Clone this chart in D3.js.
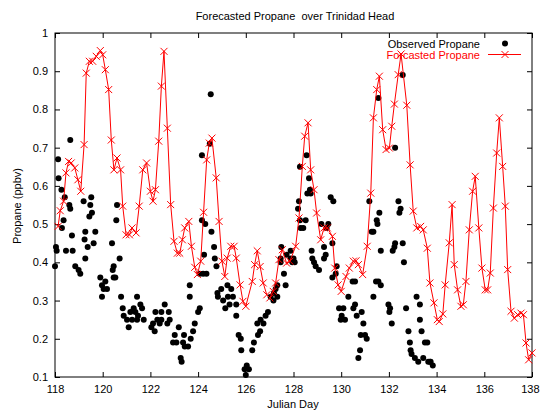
<!DOCTYPE html>
<html>
<head>
<meta charset="utf-8">
<script src="https://cdn.jsdelivr.net/npm/d3@7"></script>
<style>
  html, body { margin: 0; padding: 0; background: #fff; }
  svg text { font-family: "Liberation Sans", Arial, sans-serif; font-size: 11px; }
</style>
</head>
<body>
<svg id="chart" width="540" height="411"></svg>
<script>
// Forecasted propane (3-hourly model output), Julian day and ppbv
const fcDay = [118.13,118.22,118.36,118.46,118.57,118.68,118.83,118.96,119.08,119.22,119.31,119.44,119.58,119.73,119.90,120.00,120.11,120.25,120.36,120.47,120.60,120.75,120.84,120.98,121.12,121.23,121.40,121.53,121.68,121.84,122.00,122.11,122.21,122.35,122.46,122.57,122.71,122.85,122.99,123.13,123.23,123.34,123.44,123.61,123.72,123.86,123.97,124.11,124.23,124.36,124.47,124.58,124.76,124.88,125.00,125.12,125.22,125.37,125.51,125.60,125.76,125.88,126.00,126.27,126.37,126.48,126.60,126.73,126.88,127.01,127.15,127.25,127.39,127.53,127.71,127.85,128.09,128.23,128.37,128.47,128.61,128.72,128.86,128.97,129.14,129.28,129.42,129.63,129.73,129.87,130.00,130.20,130.34,130.51,130.62,130.72,130.90,131.09,131.24,131.35,131.49,131.60,131.74,131.88,132.02,132.12,132.23,132.39,132.51,132.75,132.89,133.02,133.17,133.33,133.44,133.61,133.72,133.89,134.03,134.11,134.26,134.36,134.53,134.65,134.74,134.88,135.02,135.12,135.23,135.37,135.51,135.62,135.77,135.90,136.04,136.14,136.25,136.38,136.52,136.63,136.77,136.88,136.98,137.12,137.26,137.40,137.54,137.64,137.75,137.86,138.00];
const fcVal = [0.494,0.535,0.560,0.634,0.664,0.660,0.647,0.616,0.586,0.708,0.895,0.926,0.926,0.939,0.954,0.943,0.904,0.852,0.720,0.642,0.673,0.642,0.547,0.472,0.472,0.490,0.477,0.547,0.642,0.660,0.586,0.560,0.590,0.717,0.861,0.952,0.751,0.551,0.455,0.424,0.424,0.459,0.490,0.507,0.442,0.387,0.368,0.403,0.531,0.668,0.712,0.725,0.621,0.507,0.403,0.363,0.411,0.442,0.442,0.411,0.341,0.298,0.285,0.350,0.394,0.430,0.389,0.346,0.315,0.307,0.324,0.346,0.407,0.433,0.398,0.403,0.442,0.516,0.651,0.730,0.765,0.642,0.590,0.529,0.459,0.490,0.490,0.468,0.385,0.341,0.324,0.363,0.385,0.403,0.404,0.394,0.368,0.442,0.581,0.778,0.852,0.887,0.747,0.695,0.699,0.756,0.814,0.891,0.945,0.811,0.655,0.534,0.490,0.494,0.485,0.437,0.346,0.294,0.250,0.245,0.265,0.341,0.451,0.551,0.394,0.328,0.285,0.289,0.350,0.485,0.586,0.625,0.490,0.385,0.328,0.328,0.372,0.542,0.686,0.778,0.651,0.547,0.381,0.272,0.254,0.263,0.267,0.263,0.189,0.145,0.163];

// Observed propane at Trinidad Head
const obsDay = [118.00,118.04,118.07,118.13,118.15,118.27,118.29,118.36,118.41,118.46,118.60,118.64,118.64,118.71,118.74,118.85,118.99,119.06,119.20,119.24,119.27,119.27,119.37,119.44,119.48,119.52,119.55,119.62,119.69,119.90,119.97,119.97,120.04,120.11,120.18,120.39,120.42,120.46,120.46,120.53,120.57,120.60,120.71,120.77,120.84,120.88,121.02,121.09,121.16,121.23,121.30,121.37,121.44,121.44,121.48,121.58,121.65,121.72,122.04,122.11,122.18,122.21,122.29,122.39,122.46,122.46,122.60,122.71,122.77,122.81,122.95,123.02,123.09,123.19,123.27,123.31,123.37,123.41,123.44,123.58,123.65,123.65,123.69,123.79,123.86,124.00,124.07,124.07,124.16,124.16,124.21,124.25,124.30,124.35,124.49,124.53,124.56,124.67,124.70,124.77,124.81,124.83,124.97,125.05,125.14,125.23,125.25,125.32,125.39,125.46,125.60,125.60,125.70,125.79,125.81,125.95,126.00,126.04,126.13,126.27,126.34,126.48,126.51,126.60,126.62,126.74,126.83,126.93,127.04,127.16,127.18,127.25,127.32,127.32,127.46,127.46,127.49,127.60,127.67,127.71,127.88,127.88,127.95,128.00,128.05,128.19,128.23,128.27,128.27,128.30,128.41,128.51,128.55,128.58,128.65,128.69,128.72,128.76,128.79,128.86,128.93,129.07,129.17,129.28,129.28,129.35,129.39,129.46,129.56,129.63,129.63,129.67,129.77,129.81,129.91,129.98,130.02,130.09,130.16,130.30,130.48,130.51,130.58,130.58,130.65,130.72,130.79,130.82,130.86,130.93,131.00,131.07,131.18,131.28,131.35,131.35,131.46,131.49,131.52,131.56,131.56,131.60,131.66,131.66,131.98,132.02,132.05,132.12,132.16,132.23,132.26,132.26,132.40,132.44,132.49,132.58,132.58,132.63,132.72,132.82,132.88,132.91,132.95,133.09,133.16,133.23,133.30,133.30,133.37,133.44,133.51,133.61,133.65,133.72,133.75,133.84];
const obsVal = [0.39,0.44,0.43,0.67,0.62,0.59,0.49,0.51,0.57,0.43,0.55,0.72,0.54,0.47,0.43,0.39,0.38,0.37,0.56,0.46,0.48,0.41,0.44,0.52,0.55,0.57,0.53,0.45,0.48,0.36,0.34,0.31,0.33,0.35,0.33,0.45,0.38,0.39,0.36,0.36,0.51,0.55,0.41,0.31,0.28,0.26,0.25,0.23,0.27,0.25,0.28,0.27,0.31,0.25,0.26,0.29,0.28,0.25,0.23,0.24,0.22,0.27,0.25,0.24,0.27,0.25,0.29,0.24,0.27,0.25,0.19,0.21,0.19,0.23,0.15,0.14,0.19,0.21,0.18,0.18,0.34,0.31,0.20,0.22,0.24,0.27,0.28,0.37,0.68,0.51,0.37,0.42,0.50,0.37,0.71,0.84,0.48,0.44,0.41,0.39,0.32,0.31,0.33,0.30,0.28,0.34,0.31,0.29,0.33,0.31,0.29,0.26,0.21,0.20,0.17,0.12,0.105,0.13,0.12,0.17,0.19,0.24,0.21,0.22,0.25,0.24,0.26,0.27,0.31,0.30,0.32,0.33,0.31,0.34,0.41,0.40,0.44,0.37,0.34,0.42,0.41,0.43,0.40,0.41,0.40,0.54,0.56,0.65,0.51,0.49,0.49,0.51,0.68,0.58,0.62,0.59,0.58,0.43,0.41,0.40,0.39,0.38,0.50,0.41,0.44,0.42,0.49,0.50,0.57,0.45,0.36,0.56,0.37,0.39,0.28,0.25,0.26,0.28,0.25,0.31,0.35,0.28,0.35,0.29,0.26,0.15,0.17,0.21,0.27,0.24,0.21,0.20,0.56,0.48,0.48,0.31,0.35,0.51,0.50,0.83,0.35,0.53,0.43,0.34,0.29,0.27,0.28,0.24,0.43,0.44,0.45,0.70,0.56,0.53,0.54,0.89,0.45,0.40,0.28,0.22,0.19,0.17,0.16,0.15,0.31,0.14,0.29,0.25,0.22,0.15,0.19,0.19,0.14,0.14,0.14,0.13];

const xTicks = [118,120,122,124,126,128,130,132,134,136,138];
const yTicks = [0.1,0.2,0.3,0.4,0.5,0.6,0.7,0.8,0.9,1];
const yTickLabels = ["0.1","0.2","0.3","0.4","0.5","0.6","0.7","0.8","0.9","1"];

const svg = d3.select("#chart");
const plotLeft = 55, plotRight = 532, plotTop = 33, plotBottom = 377;

const x = d3.scaleLinear().domain([118, 138]).range([plotLeft, plotRight]);
const y = d3.scaleLinear().domain([0.1, 1]).range([plotBottom, plotTop]);

// Title
svg.append("text")
  .attr("x", 295).attr("y", 19.5)
  .attr("text-anchor", "middle")
  .style("white-space", "pre")
  .attr("xml:space", "preserve")
  .text("Forecasted Propane  over Trinidad Head");

// Axes with ticks pointing into the plot on all four sides
const yFmt = d => yTickLabels[yTicks.indexOf(d)];
const axB = svg.append("g").attr("transform", `translate(0,${plotBottom})`)
  .call(d3.axisBottom(x).tickValues(xTicks).tickSize(-5).tickSizeOuter(0).tickPadding(8).tickFormat(d3.format("d")));
const axT = svg.append("g").attr("transform", `translate(0,${plotTop})`)
  .call(d3.axisTop(x).tickValues(xTicks).tickSize(-5).tickSizeOuter(0).tickFormat(""));
const axL = svg.append("g").attr("transform", `translate(${plotLeft},0)`)
  .call(d3.axisLeft(y).tickValues(yTicks).tickSize(-5).tickSizeOuter(0).tickPadding(7).tickFormat(yFmt));
const axR = svg.append("g").attr("transform", `translate(${plotRight},0)`)
  .call(d3.axisRight(y).tickValues(yTicks).tickSize(-5).tickSizeOuter(0).tickFormat(""));
[axB, axT, axL, axR].forEach(g => {
  g.select(".domain").remove();
  g.selectAll("line").attr("stroke", "#000");
  g.selectAll("text").attr("fill", "#000")
    .style("font-family", '"Liberation Sans", Arial, sans-serif').style("font-size", "11px");
});
// keep the last day label inside the canvas
axB.selectAll(".tick").filter(d => d === 138).select("text")
  .attr("text-anchor", "end").attr("x", 539 - plotRight);

// Plot frame
svg.append("rect")
  .attr("x", plotLeft).attr("y", plotTop)
  .attr("width", plotRight - plotLeft).attr("height", plotBottom - plotTop)
  .attr("fill", "none").attr("stroke", "#000").attr("stroke-width", 1);

// Axis labels
svg.append("text").attr("x", 293).attr("y", 407.5).attr("text-anchor", "middle").text("Julian Day");
svg.append("text").attr("transform", "translate(21,206) rotate(-90)").attr("text-anchor", "middle").text("Propane (ppbv)");

const plot = svg.append("g");

// Observed points
const obs = obsDay.map((d, i) => ({ d, v: obsVal[i] }));
plot.selectAll("circle.obs").data(obs).join("circle")
  .attr("class", "obs")
  .attr("cx", p => x(p.d)).attr("cy", p => y(p.v))
  .attr("r", 3).attr("fill", "#000");

// Forecast line with cross markers
const fc = fcDay.map((d, i) => ({ d, v: fcVal[i] }));
const line = d3.line().x(p => x(p.d)).y(p => y(p.v));
plot.append("path").datum(fc)
  .attr("d", line).attr("fill", "none").attr("stroke", "#ff0000").attr("stroke-width", 1);

const cross = (cx, cy, s) => `M${cx - s},${cy - s}L${cx + s},${cy + s}M${cx - s},${cy + s}L${cx + s},${cy - s}`;
plot.selectAll("path.fcm").data(fc).join("path")
  .attr("class", "fcm")
  .attr("d", p => cross(x(p.d), y(p.v), 3.5))
  .attr("stroke", "#ff0000").attr("stroke-width", 1).attr("fill", "none");

// Legend
const lg = svg.append("g");
lg.append("text").attr("x", 480).attr("y", 47.5).attr("text-anchor", "end").attr("fill", "#000").text("Observed Propane");
lg.append("circle").attr("cx", 505).attr("cy", 43.5).attr("r", 3).attr("fill", "#000");
lg.append("text").attr("x", 480).attr("y", 58.5).attr("text-anchor", "end").attr("fill", "#ff0000").text("Forcasted Propane");
lg.append("line").attr("x1", 488).attr("x2", 521).attr("y1", 54.5).attr("y2", 54.5).attr("stroke", "#ff0000");
lg.append("path").attr("d", cross(505, 54.5, 3.5)).attr("stroke", "#ff0000").attr("fill", "none");
</script>
</body>
</html>
